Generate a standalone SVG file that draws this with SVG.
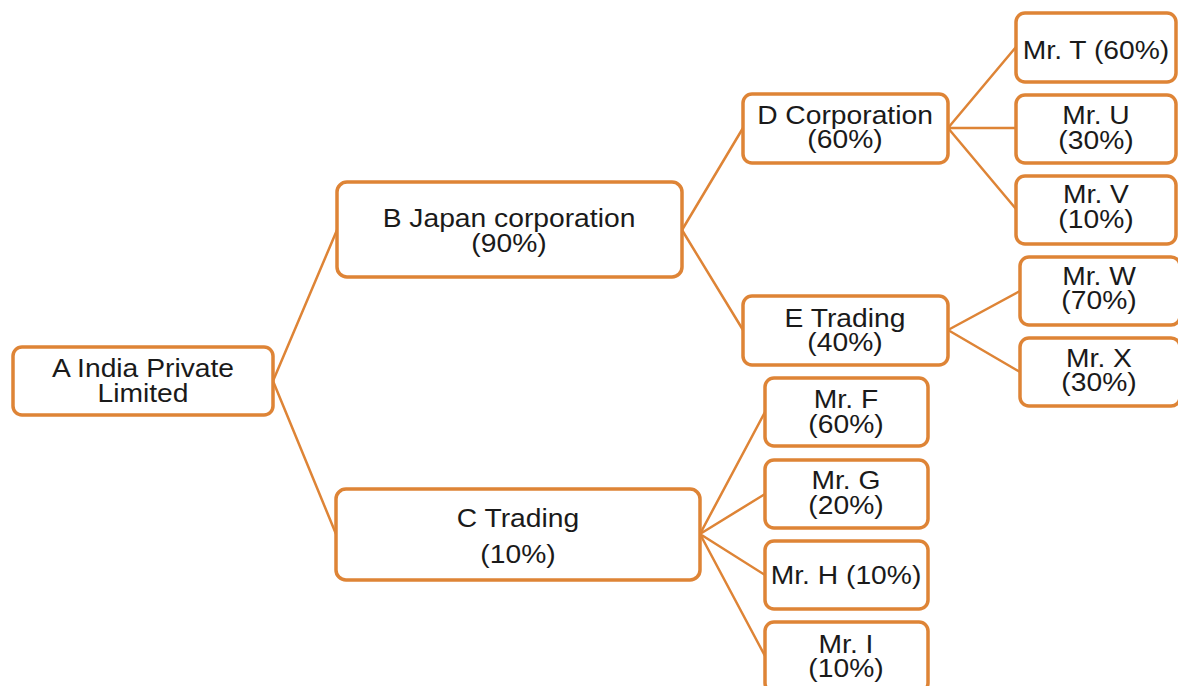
<svg xmlns="http://www.w3.org/2000/svg" width="1178" height="686" viewBox="0 0 1178 686">
<style>
.box{fill:#fff;stroke:#DE8436;stroke-width:3.5}
.con{stroke:#DE8436;stroke-width:2.5;fill:none}
text{font-family:"Liberation Sans",Arial,sans-serif;font-size:25px;fill:#1a1a1a;text-anchor:middle}
</style>
<rect width="1178" height="686" fill="#fff"/>
<g id="connectors">
<path class="con" d="M273 381 L337 230 M273 381 L336 534"/>
<path class="con" d="M682 230 L743 128 M682 230 L743 330"/>
<path class="con" d="M948 128 L1016 47 M948 128 L1016 128 M948 128 L1016 209"/>
<path class="con" d="M948 330 L1020 291 M948 330 L1020 372"/>
<path class="con" d="M700 534 L765 412 M700 534 L765 494 M700 534 L765 575 M700 534 L765 656"/>
</g>
<g id="nA"><rect class="box" x="13" y="347" width="260" height="68" rx="9"/>
<text transform="matrix(1.13 0 0 1 143 0)" x="0" y="377">A India Private</text>
<text transform="matrix(1.13 0 0 1 143 0)" x="0" y="402">Limited</text></g>
<g id="nB"><rect class="box" x="337" y="182" width="345" height="95" rx="10"/>
<text transform="matrix(1.13 0 0 1 509 0)" x="0" y="227">B Japan corporation</text>
<text transform="matrix(1.13 0 0 1 509 0)" x="0" y="252">(90%)</text></g>
<g id="nC"><rect class="box" x="336" y="489" width="364" height="91" rx="10"/>
<text transform="matrix(1.13 0 0 1 518 0)" x="0" y="527">C Trading</text>
<text transform="matrix(1.13 0 0 1 518 0)" x="0" y="563">(10%)</text></g>
<g id="nD"><rect class="box" x="743" y="94" width="205" height="69" rx="9"/>
<text transform="matrix(1.13 0 0 1 845 0)" x="0" y="124">D Corporation</text>
<text transform="matrix(1.13 0 0 1 845 0)" x="0" y="148">(60%)</text></g>
<g id="nE"><rect class="box" x="743" y="296" width="205" height="69" rx="9"/>
<text transform="matrix(1.13 0 0 1 845 0)" x="0" y="327">E Trading</text>
<text transform="matrix(1.13 0 0 1 845 0)" x="0" y="351">(40%)</text></g>
<g id="nT"><rect class="box" x="1016" y="13" width="160" height="69" rx="9"/>
<text transform="matrix(1.13 0 0 1 1096 0)" x="0" y="59">Mr. T (60%)</text></g>
<g id="nU"><rect class="box" x="1016" y="95" width="160" height="68" rx="9"/>
<text transform="matrix(1.13 0 0 1 1096 0)" x="0" y="124">Mr. U</text>
<text transform="matrix(1.13 0 0 1 1096 0)" x="0" y="149">(30%)</text></g>
<g id="nV"><rect class="box" x="1016" y="176" width="160" height="68" rx="9"/>
<text transform="matrix(1.13 0 0 1 1096 0)" x="0" y="203">Mr. V</text>
<text transform="matrix(1.13 0 0 1 1096 0)" x="0" y="228">(10%)</text></g>
<g id="nW"><rect class="box" x="1020" y="257" width="160" height="68" rx="9"/>
<text transform="matrix(1.13 0 0 1 1099 0)" x="0" y="285">Mr. W</text>
<text transform="matrix(1.13 0 0 1 1099 0)" x="0" y="309">(70%)</text></g>
<g id="nX"><rect class="box" x="1020" y="338" width="160" height="68" rx="9"/>
<text transform="matrix(1.13 0 0 1 1099 0)" x="0" y="367">Mr. X</text>
<text transform="matrix(1.13 0 0 1 1099 0)" x="0" y="391">(30%)</text></g>
<g id="nF"><rect class="box" x="765" y="378" width="163" height="68" rx="9"/>
<text transform="matrix(1.13 0 0 1 846 0)" x="0" y="408">Mr. F</text>
<text transform="matrix(1.13 0 0 1 846 0)" x="0" y="433">(60%)</text></g>
<g id="nG"><rect class="box" x="765" y="460" width="163" height="68" rx="9"/>
<text transform="matrix(1.13 0 0 1 846 0)" x="0" y="489">Mr. G</text>
<text transform="matrix(1.13 0 0 1 846 0)" x="0" y="514">(20%)</text></g>
<g id="nH"><rect class="box" x="765" y="541" width="163" height="68" rx="9"/>
<text transform="matrix(1.13 0 0 1 846 0)" x="0" y="584">Mr. H (10%)</text></g>
<g id="nI"><rect class="box" x="765" y="622" width="163" height="70" rx="9"/>
<text transform="matrix(1.13 0 0 1 846 0)" x="0" y="653">Mr. I</text>
<text transform="matrix(1.13 0 0 1 846 0)" x="0" y="677">(10%)</text></g>
</svg>
